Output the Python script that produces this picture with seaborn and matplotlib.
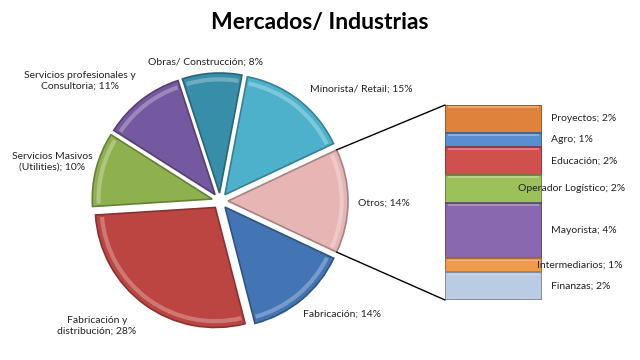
import numpy as np
import matplotlib
matplotlib.use("Agg")
import matplotlib.pyplot as plt
from matplotlib.patches import ConnectionPatch, Wedge, Rectangle
import seaborn as sns

# ---- data ----
pie_labels = ["Otros; 14%", "Minorista/ Retail; 15%", "Obras/ Construcción; 8%",
              "Servicios profesionales y\nConsultoria; 11%",
              "Servicios Masivos\n(Utilities); 10%",
              "Fabricación y\ndistribución; 28%", "Fabricación; 14%"]
pie_values = [14, 15, 8, 11, 10, 28, 14]
pie_colors = ["#E6B5B4", "#4DB1CC", "#368EA8", "#7459A0", "#8FB04E", "#BC4542", "#4374B3"]

bar_labels = ["Proyectos; 2%", "Agro; 1%", "Educación; 2%", "Operador Logístico; 2%",
              "Mayorista; 4%", "Intermediarios; 1%", "Finanzas; 2%"]
bar_values = [2, 1, 2, 2, 4, 1, 2]
bar_colors = ["#DF833C", "#5A8ED0", "#CF504D", "#9CC05A", "#8A68B0", "#F29A48", "#B9CCE4"]

title = "Mercados/ Industrias"

sns.set_theme(style="white")
plt.rcParams['font.family'] = ['Lato', 'DejaVu Sans']


def shade(c, f):
    return tuple(np.clip(np.array(matplotlib.colors.to_rgb(c)) * f, 0, 1))


def tint(c, f):
    rgb = np.array(matplotlib.colors.to_rgb(c))
    return tuple(rgb + (1 - rgb) * f)


W, H = 640, 360
fig = plt.figure(figsize=(6.4, 3.6), dpi=100)
fig.patch.set_facecolor("white")

# ---- pie ----
R = 120.0
cx, cy = 220.0, 201.0  # image coords
half = 1.25
pax = fig.add_axes([(cx - half * R) / W, (H - cy - half * R) / H, 2 * half * R / W, 2 * half * R / H])
expl = [8.0 / R] * len(pie_values)
start = -360 * pie_values[0] / sum(pie_values) / 2
wedges, _ = pax.pie(pie_values, explode=expl, colors=pie_colors, startangle=start,
                    counterclock=True, radius=1.0,
                    wedgeprops=dict(linewidth=1.2))
for w, c in zip(wedges, pie_colors):
    w.set_edgecolor(shade(c, 0.72))
    # bevel-like inner highlight along the rim
    rim = Wedge(w.center, w.r - 0.035, w.theta1 + 1.2, w.theta2 - 1.2, width=0.035,
                facecolor=tint(c, 0.35), edgecolor="none", alpha=0.8, zorder=w.get_zorder() + 0.1)
    pax.add_patch(rim)
pax.set_xlim(-half, half)
pax.set_ylim(-half, half)
pax.set_aspect("equal")
pax.axis("off")

# ---- bar of pie ----
bx0, bx1, by0, by1 = 445, 542, 105, 300
bax = fig.add_axes([bx0 / W, (H - by1) / H, (bx1 - bx0) / W, (by1 - by0) / H])
cum = np.cumsum(bar_values[::-1])[::-1]  # cumulative from bottom, top segment first
for total, col in zip(cum, bar_colors):
    sns.barplot(x=[0], y=[total], color=col, ax=bax, width=1.0, saturation=1,
                edgecolor=shade(col, 0.65), linewidth=1.2)
# bevel highlight strips on each segment
for total, v, col in zip(cum, bar_values, bar_colors):
    bax.add_patch(Rectangle((-0.47, total - 0.22), 0.94, 0.12, facecolor=tint(col, 0.35),
                            edgecolor="none", alpha=0.8, zorder=3))
bax.set_xlim(-0.5, 0.5)
bax.set_ylim(0, sum(bar_values))
bax.axis("off")

label_x = {"Operador Logístico; 2%": 0.75, "Intermediarios; 1%": 0.95}
for lab, total, v in zip(bar_labels, cum, bar_values):
    bax.text(label_x.get(lab, 1.093), total - v / 2, lab, transform=bax.get_yaxis_transform(),
             ha="left", va="center", fontsize=7.5, color="#222222", clip_on=False, zorder=5)

# connector lines from "Otros" wedge to bar
w0 = wedges[0]
for ang, yb in ((w0.theta2, 1.0), (w0.theta1, 0.0)):
    px = w0.center[0] + w0.r * np.cos(np.deg2rad(ang))
    py = w0.center[1] + w0.r * np.sin(np.deg2rad(ang))
    con = ConnectionPatch(xyA=(px, py), coordsA=pax.transData, xyB=(0, yb), coordsB=bax.transAxes,
                          color="black", linewidth=1.0)
    fig.add_artist(con)

# ---- overlay text ----
tax = fig.add_axes([0, 0, 1, 1])
tax.set_xlim(0, W)
tax.set_ylim(H, 0)
tax.axis("off")
tax.patch.set_alpha(0)
tax.text(320, 22, title, ha="center", va="center", fontsize=16.5, fontweight="bold", color="black")

pie_label_pos = [(384, 203, "center"), (310, 89, "left"), (205, 62, "center"), (80, 81, "center"),
                 (52, 162, "center"), (97, 326, "center"), (342, 314, "center")]
for lab, (x, y, ha) in zip(pie_labels, pie_label_pos):
    tax.text(x, y, lab, ha=ha, va="center", fontsize=7.5, color="#222222", linespacing=1.3)

fig.savefig("out.png", dpi=100, facecolor="white")
